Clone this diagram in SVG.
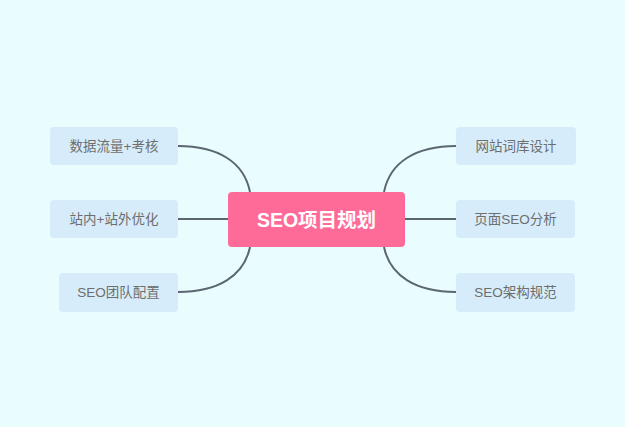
<svg xmlns="http://www.w3.org/2000/svg" width="625" height="427" viewBox="0 0 625 427">
<style>
.bg{fill:#e9fdff}
.n rect{fill:#d6ecfa;rx:4px}
.n text{font-family:"Liberation Sans","Noto Sans CJK SC",sans-serif;font-size:13.5px;fill:#6e6e6e;text-anchor:middle;dominant-baseline:central}
.c path{fill:none;stroke:#5b6670;stroke-width:2}
#root rect{fill:#ff6b98}
#root text{font-family:"Liberation Sans","Noto Sans CJK SC",sans-serif;font-size:19.5px;font-weight:bold;fill:#ffffff;text-anchor:middle;dominant-baseline:central}
</style>
<rect class="bg" x="0" y="0" width="625" height="427"/>
<g class="c">
<path d="M178,146 C218,146 244,162 250,192"/>
<path d="M178,219 L228,219"/>
<path d="M178,292 C218,292 244,276 250,247"/>
<path d="M456,146 C416,146 390,162 384,192"/>
<path d="M405,219 L456,219"/>
<path d="M456,292 C416,292 390,276 384,247"/>
</g>
<g id="root"><rect x="228" y="192" width="177" height="55" rx="4"/><text x="316.5" y="219.5">SEO项目规划</text></g>
<g id="n1" class="n"><rect x="50" y="127" width="128" height="38"/><text x="114" y="146">数据流量+考核</text></g>
<g id="n2" class="n"><rect x="50" y="200" width="128" height="38"/><text x="114" y="219">站内+站外优化</text></g>
<g id="n3" class="n"><rect x="59" y="273" width="119" height="39"/><text x="118.5" y="292.5">SEO团队配置</text></g>
<g id="n4" class="n"><rect x="456" y="127" width="120" height="38"/><text x="516" y="146">网站词库设计</text></g>
<g id="n5" class="n"><rect x="456" y="200" width="119" height="38"/><text x="515.5" y="219">页面SEO分析</text></g>
<g id="n6" class="n"><rect x="456" y="273" width="119" height="39"/><text x="515.5" y="292.5">SEO架构规范</text></g>
</svg>
